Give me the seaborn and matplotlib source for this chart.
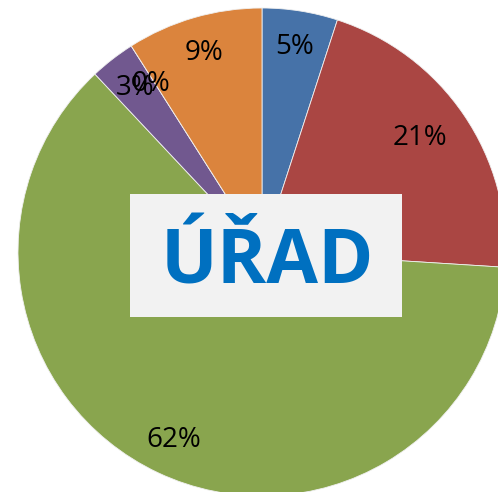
import matplotlib.pyplot as plt
import seaborn as sns
from matplotlib.patches import Rectangle

# data
categories = ['A', 'B', 'C', 'D', 'E', 'F']
values = [5, 21, 62, 3, 0, 9]
colors = ['#4672A8', '#AA4643', '#89A54E', '#71588F', '#4198AF', '#DB843D']

sns.set_style("white")
plt.rcParams['font.family'] = ['Open Sans', 'DejaVu Sans']

W, H = 498, 492
fig = plt.figure(figsize=(W / 100, H / 100), dpi=100)
ax = fig.add_axes([0, 0, 1, 1])

cx, cy, r = 262, 252, 244  # pie centre and radius in pixels
wedges, texts, autotexts = ax.pie(
    values, colors=colors, startangle=90, counterclock=False,
    autopct='%.0f%%', pctdistance=0.85,
    wedgeprops=dict(linewidth=0.6, edgecolor='#f0f0f0'),
    textprops=dict(fontsize=20, color='black'))

ax.set_aspect('auto')
ax.set_xlim(-cx / r, (W - cx) / r)
ax.set_ylim(-(H - cy) / r, cy / r)
ax.axis('off')

# label for the red slice sits a bit closer to the centre
x, y = autotexts[1].get_position()
autotexts[1].set_position((x * 0.92, y * 0.98))
# the 0% label is drawn on top of the 3% one, as in the original
x, y = autotexts[4].get_position()
autotexts[4].set_position((x, y - 0.03))

# title box
fig.patches.append(Rectangle((130 / W, 1 - 317 / H), 272 / W, 123 / H,
                             transform=fig.transFigure, facecolor='#F2F2F2',
                             edgecolor='none', zorder=5))
fig.text(267 / W, 1 - 284 / H, 'ÚŘAD', ha='center', va='baseline',
         fontsize=54, fontweight='bold', color='#0070C0', zorder=6)

fig.savefig('out.png', dpi=100)
